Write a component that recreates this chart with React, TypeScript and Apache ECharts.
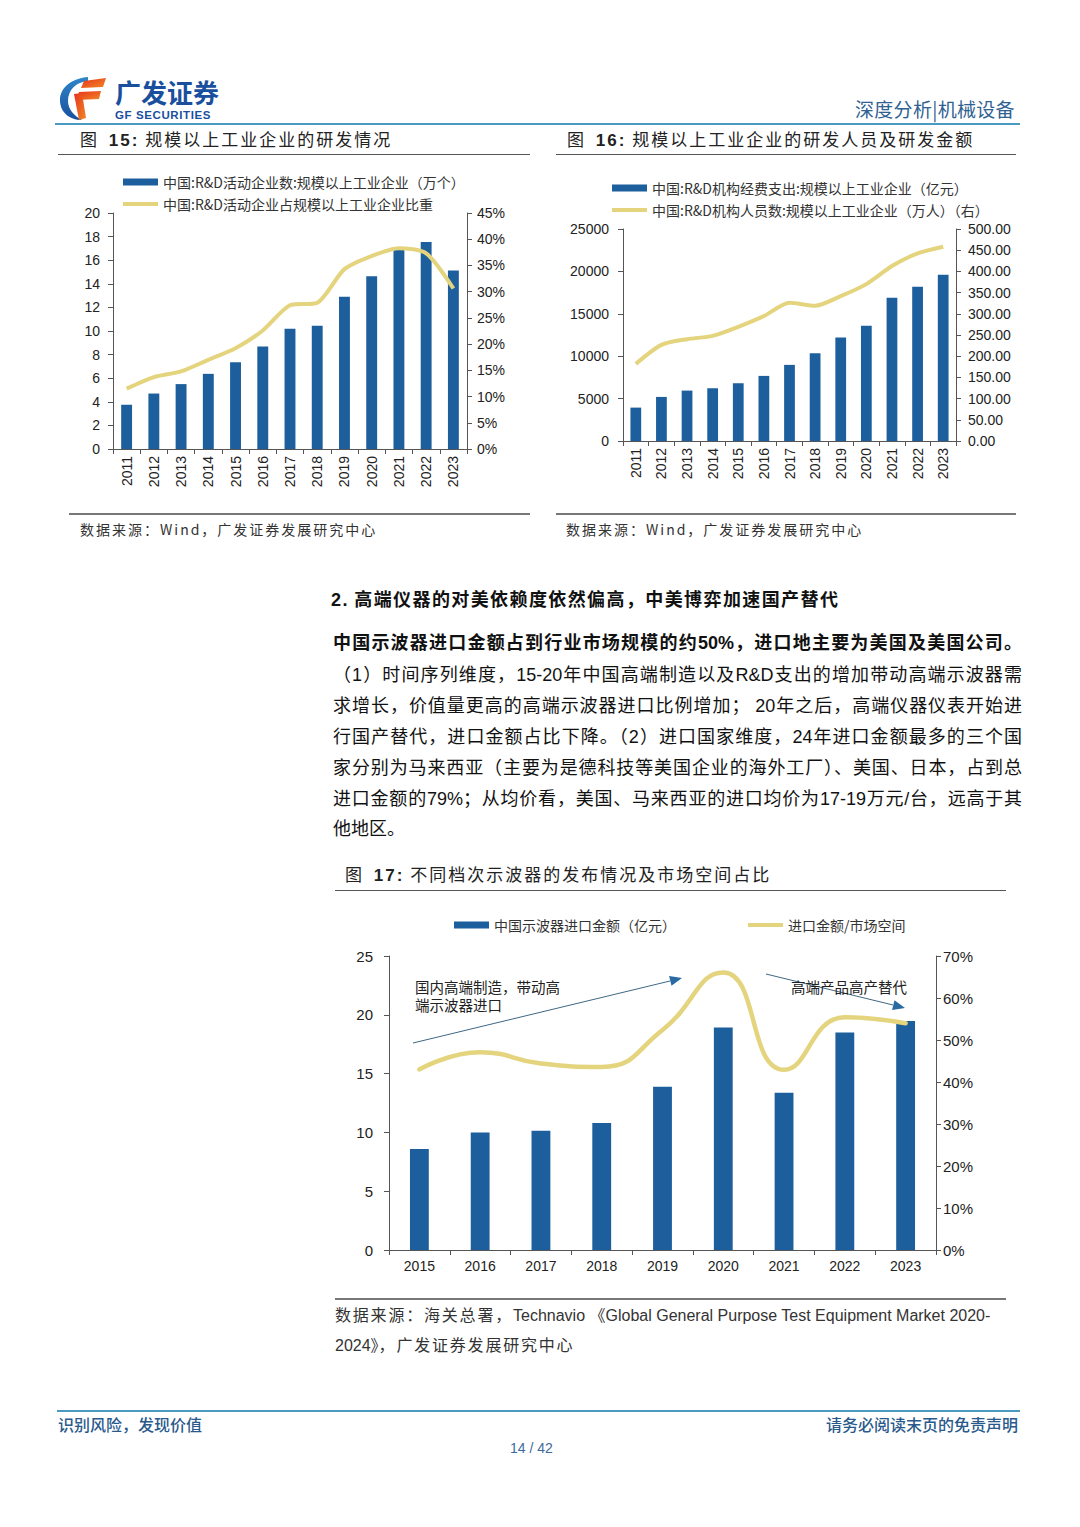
import React, { useEffect, useRef } from "react";
import * as echarts from "echarts";

// ---------- data ----------
const years1 = ["2011", "2012", "2013", "2014", "2015", "2016", "2017", "2018", "2019", "2020", "2021", "2022", "2023"];
const rdFirms = [3.75, 4.7, 5.5, 6.37, 7.35, 8.68, 10.2, 10.45, 12.9, 14.65, 16.9, 17.55, 15.13];
const rdFirmShare = [11.5, 13.7, 14.8, 17.0, 19.2, 22.6, 27.4, 27.9, 34.3, 36.8, 38.3, 37.3, 30.6];
const rdSpend = [3937, 5197, 5945, 6220, 6811, 7677, 8976, 10354, 12205, 13583, 16890, 18189, 19606];
const rdStaff = [181.9, 226.8, 240.2, 248, 269.3, 294.5, 326, 318.9, 341.7, 370, 412.6, 442.5, 458.3];
const years3 = ["2015", "2016", "2017", "2018", "2019", "2020", "2021", "2022", "2023"];
const oscImport = [8.59, 10.0, 10.15, 10.8, 13.89, 18.93, 13.38, 18.5, 19.47];
const importShare = [43.0, 47.1, 44.4, 43.6, 52.4, 66.1, 42.9, 55.4, 54.0];

const S1A = "中国:R&D活动企业数:规模以上工业企业（万个）";
const S1B = "中国:R&D活动企业占规模以上工业企业比重";
const S2A = "中国:R&D机构经费支出:规模以上工业企业（亿元）";
const S2B = "中国:R&D机构人员数:规模以上工业企业（万人）（右）";
const S3A = "中国示波器进口金额（亿元）";
const S3B = "进口金额/市场空间";

const BLUE = "#1d5f9c";
const GOLD = "#e4d47e";
const AX = "#555555";
const LBL = "#222222";
const FONT = '"Liberation Sans", "Noto Sans CJK SC", sans-serif';
const CJK = '"Noto Sans CJK SC", "Liberation Sans", sans-serif';
const LINE_ICON = "path://M0,0 L36,0 L36,4 L0,4 Z";

function axisBase(extra: any) {
  return {
    axisLine: { show: true, lineStyle: { color: AX, width: 1 } },
    axisTick: { show: true, length: 5, lineStyle: { color: AX } },
    splitLine: { show: false },
    ...extra,
  };
}

function buildOption() {
  const legendText = { fontSize: 14, color: "#333", fontFamily: CJK };
  const lg = { padding: 0, selectedMode: false, textStyle: legendText, itemWidth: 35 };
  return {
    animation: false,
    textStyle: { fontFamily: FONT },
    legend: [
      {
        ...lg, left: 123, top: 175, orient: "vertical", itemGap: 8,
        data: [{ name: S1A, icon: "rect", itemHeight: 7 }, { name: S1B, icon: LINE_ICON }],
        itemHeight: 7,
      },
      {
        ...lg, left: 612, top: 181, orient: "vertical", itemGap: 8,
        data: [{ name: S2A, icon: "rect" }, { name: S2B, icon: LINE_ICON }],
        itemHeight: 7,
      },
      {
        ...lg, left: 454, top: 918, itemHeight: 7,
        data: [{ name: S3A, icon: "rect" }],
      },
      {
        ...lg, left: 748, top: 918, itemHeight: 5,
        data: [{ name: S3B, icon: LINE_ICON }],
      },
    ],
    grid: [
      { left: 113, top: 213, width: 354, height: 236, containLabel: false, outerBoundsMode: "none" },
      { left: 623, top: 229, width: 333, height: 212, containLabel: false, outerBoundsMode: "none" },
      { left: 389, top: 956, width: 547, height: 294, containLabel: false, outerBoundsMode: "none" },
    ],
    xAxis: [
      axisBase({ gridIndex: 0, type: "category", data: years1, axisLabel: { rotate: 90, fontSize: 14, color: LBL, margin: 7 } }),
      axisBase({ gridIndex: 1, type: "category", data: years1, axisLabel: { rotate: 90, fontSize: 14, color: LBL, margin: 7 } }),
      axisBase({ gridIndex: 2, type: "category", data: years3, axisLabel: { fontSize: 14, color: LBL, margin: 9 } }),
    ],
    yAxis: [
      axisBase({ gridIndex: 0, type: "value", min: 0, max: 20, interval: 2, axisLabel: { fontSize: 14, color: LBL, margin: 13 } }),
      axisBase({ gridIndex: 0, type: "value", position: "right", min: 0, max: 45, interval: 5, axisLabel: { fontSize: 14, color: LBL, margin: 10, formatter: "{value}%" } }),
      axisBase({ gridIndex: 1, type: "value", min: 0, max: 25000, interval: 5000, axisLabel: { fontSize: 14, color: LBL, margin: 14, formatter: (v: number) => String(v) } }),
      axisBase({ gridIndex: 1, type: "value", position: "right", min: 0, max: 500, interval: 50, axisLabel: { fontSize: 14, color: LBL, margin: 12, formatter: (v: number) => v.toFixed(2) } }),
      axisBase({ gridIndex: 2, type: "value", min: 0, max: 25, interval: 5, axisLabel: { fontSize: 15, color: LBL, margin: 16 } }),
      axisBase({ gridIndex: 2, type: "value", position: "right", min: 0, max: 70, interval: 10, axisLabel: { fontSize: 15, color: LBL, margin: 7, formatter: "{value}%" } }),
    ],
    series: [
      { type: "bar", name: S1A, xAxisIndex: 0, yAxisIndex: 0, data: rdFirms, barWidth: "40%", itemStyle: { color: BLUE } },
      { type: "line", name: S1B, xAxisIndex: 0, yAxisIndex: 1, data: rdFirmShare, symbol: "none", smooth: 0.25, lineStyle: { color: GOLD, width: 4 }, itemStyle: { color: GOLD } },
      { type: "bar", name: S2A, xAxisIndex: 1, yAxisIndex: 2, data: rdSpend, barWidth: "42%", itemStyle: { color: BLUE } },
      { type: "line", name: S2B, xAxisIndex: 1, yAxisIndex: 3, data: rdStaff, symbol: "none", smooth: 0.25, lineStyle: { color: GOLD, width: 4 }, itemStyle: { color: GOLD } },
      { type: "bar", name: S3A, xAxisIndex: 2, yAxisIndex: 4, data: oscImport, barWidth: "31%", itemStyle: { color: BLUE } },
      { type: "line", name: S3B, xAxisIndex: 2, yAxisIndex: 5, data: importShare, symbol: "none", smooth: 0.5, lineStyle: { color: GOLD, width: 4.5, cap: "round" }, itemStyle: { color: GOLD } },
    ],
    graphic: [
      { type: "line", shape: { x1: 413, y1: 1043, x2: 670, y2: 981 }, style: { stroke: "#3f6884", lineWidth: 1 }, z: 10 },
      { type: "polygon", shape: { points: [[682, 978], [671.5, 985.7], [669.1, 975.9]] }, style: { fill: "#2a6aa3" }, z: 10 },
      { type: "line", shape: { x1: 766, y1: 974, x2: 893, y2: 1005 }, style: { stroke: "#3f6884", lineWidth: 1 }, z: 10 },
      { type: "polygon", shape: { points: [[905, 1008], [892.1, 1010], [894.5, 1000.2]] }, style: { fill: "#2a6aa3" }, z: 10 },
      { type: "text", x: 415, y: 986, style: { text: "国内高端制造，带动高", fontSize: 14.5, fill: "#222", fontFamily: CJK, verticalAlign: "middle" }, z: 11 },
      { type: "text", x: 415, y: 1004, style: { text: "端示波器进口", fontSize: 14.5, fill: "#222", fontFamily: CJK, verticalAlign: "middle" }, z: 11 },
      { type: "text", x: 791, y: 986, style: { text: "高端产品高产替代", fontSize: 14.5, fill: "#222", fontFamily: CJK, verticalAlign: "middle" }, z: 11 },
    ],
  };
}

function T(props: { x: number; y: number; size: number; children: any; style?: any }) {
  const lh = Math.round(props.size * 1.4);
  return (
    <div
      style={{
        position: "absolute",
        left: props.x,
        top: props.y - lh / 2,
        fontSize: props.size,
        lineHeight: lh + "px",
        whiteSpace: "nowrap",
        ...props.style,
      }}
    >
      {props.children}
    </div>
  );
}

function HLine(props: { x1: number; x2: number; y: number; color: string; w: number }) {
  return (
    <div
      style={{
        position: "absolute",
        left: props.x1,
        top: props.y - props.w / 2,
        width: props.x2 - props.x1,
        height: props.w,
        background: props.color,
      }}
    />
  );
}

const paraLines = [
  "（1）时间序列维度，15-20年中国高端制造以及R&D支出的增加带动高端示波器需",
  "求增长，价值量更高的高端示波器进口比例增加； 20年之后，高端仪器仪表开始进",
  "行国产替代，进口金额占比下降。（2）进口国家维度，24年进口金额最多的三个国",
  "家分别为马来西亚（主要为是德科技等美国企业的海外工厂）、美国、日本，占到总",
  "进口金额的79%；从均价看，美国、马来西亚的进口均价为17-19万元/台，远高于其",
];

export default function App() {
  const ref = useRef<HTMLDivElement>(null);
  useEffect(() => {
    if (!ref.current) return;
    const chart = echarts.init(ref.current, undefined, { renderer: "svg" });
    chart.setOption(buildOption() as any);
    return () => chart.dispose();
  }, []);

  const titleStyle = { fontFamily: CJK, color: "#222", letterSpacing: "2px" };
  const srcStyle = { fontFamily: CJK, color: "#333", letterSpacing: "2px" };

  return (
    <div
      lang="zh-CN"
      style={{
        position: "absolute",
        left: 0,
        top: 0,
        width: 1080,
        height: 1527,
        background: "#ffffff",
        overflow: "hidden",
        fontFamily: FONT,
        color: "#1a1a1a",
      }}
    >
      <div ref={ref} style={{ position: "absolute", left: 0, top: 0, width: 1080, height: 1527 }} />

      <div style={{ position: "absolute", left: 0, top: 0, width: 1080, height: 1527, pointerEvents: "none" }}>
        {/* logo */}
        <svg style={{ position: "absolute", left: 58, top: 74 }} width={175} height={50}>
          <defs>
            <linearGradient id="rg" x1="0" y1="0" x2="1" y2="1">
              <stop offset="0" stopColor="#e8311f" />
              <stop offset="1" stopColor="#f08a24" />
            </linearGradient>
            <linearGradient id="bg" x1="0" y1="0" x2="0" y2="1">
              <stop offset="0" stopColor="#2f86c8" />
              <stop offset="1" stopColor="#1a4f9e" />
            </linearGradient>
          </defs>
          <path d="M30 3 C15 4 2 13 2 26 C2 38 11 46 24 46 C16 42 10 35 10 27 C10 16 18 8 30 7 Z" fill="url(#bg)" />
          <polygon points="26,7 48,4 45,13 23,14" fill="url(#rg)" />
          <polygon points="21,18 43,17 41,25 19,26" fill="url(#rg)" />
          <polygon points="16,20 24,19 28,44 21,46" fill="url(#rg)" />
          <text x={57} y={29} fontSize={26} fontWeight="bold" fill="#1a4f9e" fontFamily={CJK}>
            广发证券
          </text>
          <text x={57} y={45} fontSize={11.5} fontWeight="bold" fill="#1a4f9e" fontFamily={FONT} letterSpacing={0.6}>
            GF SECURITIES
          </text>
        </svg>

        <T x={855} y={108} size={19} style={{ fontFamily: CJK, color: "#2f6192", letterSpacing: "0.3px" }}>
          深度分析|机械设备
        </T>
        <HLine x1={55} x2={1020} y={124} color="#4a9ac2" w={2} />

        {/* figure titles */}
        <T x={80} y={139} size={17} style={titleStyle}>
          图 <b style={{ fontFamily: FONT, marginLeft: 4 }}>15:</b> 规模以上工业企业的研发情况
        </T>
        <HLine x1={58} x2={530} y={154} color="#555" w={1} />
        <T x={567} y={139} size={17} style={titleStyle}>
          图 <b style={{ fontFamily: FONT, marginLeft: 4 }}>16:</b> 规模以上工业企业的研发人员及研发金额
        </T>
        <HLine x1={556} x2={1016} y={154} color="#555" w={1} />

        {/* sources */}
        <HLine x1={69} x2={530} y={514} color="#777" w={1.5} />
        <T x={80} y={529} size={14} style={srcStyle}>
          数据来源：Wind，广发证券发展研究中心
        </T>
        <HLine x1={556} x2={1016} y={514} color="#777" w={1.5} />
        <T x={566} y={529} size={14} style={srcStyle}>
          数据来源：Wind，广发证券发展研究中心
        </T>

        {/* section text */}
        <T x={331} y={598} size={18} style={{ fontFamily: CJK, fontWeight: "bold", color: "#111", letterSpacing: "1.4px" }}>
          <span style={{ fontFamily: FONT }}>2.</span> 高端仪器的对美依赖度依然偏高，中美博弈加速国产替代
        </T>
        <div
          style={{
            position: "absolute",
            left: 333,
            top: 643 - 15,
            width: 689,
            fontSize: 18,
            lineHeight: "30px",
            fontWeight: "bold",
            textAlign: "justify",
            textAlignLast: "justify",
            whiteSpace: "nowrap",
            fontFamily: FONT,
            color: "#111",
          }}
        >
          中国示波器进口金额占到行业市场规模的约50%，进口地主要为美国及美国公司。
        </div>
        {paraLines.map((ln, i) => (
          <div
            key={i}
            style={{
              position: "absolute",
              left: 333,
              top: 675 + i * 31 - 15,
              width: 689,
              fontSize: 18,
              lineHeight: "30px",
              textAlign: "justify",
              textAlignLast: "justify",
              fontFamily: FONT,
              color: "#111",
            }}
          >
            {ln}
          </div>
        ))}
        <T x={333} y={829} size={18} style={{ color: "#111" }}>
          他地区。
        </T>

        {/* fig 17 title */}
        <T x={345} y={874} size={17} style={titleStyle}>
          图 <b style={{ fontFamily: FONT, marginLeft: 4 }}>17:</b> 不同档次示波器的发布情况及市场空间占比
        </T>
        <HLine x1={335} x2={1006} y={890} color="#555" w={1} />

        {/* fig 17 source */}
        <HLine x1={335} x2={1006} y={1299} color="#777" w={1.5} />
        <T x={335} y={1314} size={16} style={{ color: "#333" }}>
          <span style={{ fontFamily: CJK, letterSpacing: "1.8px" }}>数据来源：海关总署，</span>Technavio 《Global General Purpose Test Equipment Market 2020-
        </T>
        <T x={335} y={1344} size={16} style={{ color: "#333" }}>
          2024》<span style={{ fontFamily: CJK, letterSpacing: "1.8px" }}>，广发证券发展研究中心</span>
        </T>

        {/* footer */}
        <HLine x1={57} x2={1020} y={1411} color="#4a9ac2" w={2.5} />
        <T x={58} y={1424} size={16} style={{ fontFamily: CJK, color: "#2a5a8c", fontWeight: 500 }}>
          识别风险，发现价值
        </T>
        <T x={826} y={1424} size={16} style={{ fontFamily: CJK, color: "#2a5a8c", fontWeight: 500 }}>
          请务必阅读末页的免责声明
        </T>
        <T x={510} y={1448} size={14} style={{ color: "#3c6a9a" }}>
          14 / 42
        </T>
      </div>
    </div>
  );
}
